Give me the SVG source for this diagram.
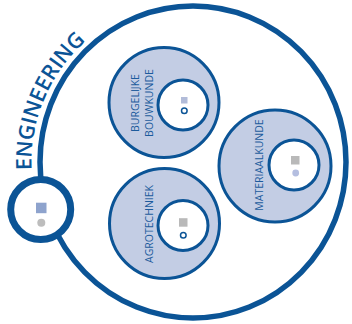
<svg xmlns="http://www.w3.org/2000/svg" width="352" height="324" viewBox="0 0 352 324">
<style>
.ring{fill:none;stroke:#0b5496;stroke-width:5.5}
.mid{fill:#c3cde4;stroke:#0b5496;stroke-width:3}
.inner{fill:#ffffff;stroke:#0b5496;stroke-width:3}
.lbl{font-family:"Open Sans","Noto Sans",sans-serif;font-size:10.5px;fill:#1c5b9c;text-anchor:middle}
.title{font-family:"Open Sans","Noto Sans",sans-serif;font-size:21.5px;font-weight:600;fill:#0b5496}
.sqb{fill:#b2bcd9}
.sqg{fill:#b9b9b9}
.odot{fill:#ffffff;stroke:#0b5496;stroke-width:1.5}
</style>
<defs>
<path id="arc" d="M 31.7 169.9 A 161.5 161.5 0 0 1 193 0.5"/>
</defs>
<g id="engineering">
<ellipse class="ring" cx="193" cy="162" rx="153" ry="156"/>
<text class="title"><textPath href="#arc">ENGINEERING</textPath></text>
</g>
<g id="burgelijke-bouwkunde">
<circle class="mid" cx="164" cy="102.5" r="55"/>
<circle class="inner" cx="183" cy="105" r="25"/>
<rect class="sqb" x="181" y="97" width="6.5" height="6.5"/>
<circle class="odot" cx="184.3" cy="110.7" r="2.8"/>
<text class="lbl" transform="translate(138.5,103) rotate(-90)">BURGELIJKE</text>
<text class="lbl" transform="translate(152.5,103) rotate(-90)">BOUWKUNDE</text>
</g>
<g id="materiaalkunde">
<circle class="mid" cx="275" cy="166" r="56"/>
<circle class="inner" cx="294" cy="165" r="25"/>
<rect class="sqg" x="291" y="156" width="8.5" height="8.5"/>
<circle cx="295.7" cy="173" r="3.4" fill="#b4bee0"/>
<text class="lbl" transform="translate(263,165) rotate(-90)">MATERIAALKUNDE</text>
</g>
<g id="agrotechniek">
<circle class="mid" cx="164.5" cy="223.5" r="55"/>
<circle class="inner" cx="183" cy="225.5" r="25"/>
<rect class="sqg" x="179" y="218.2" width="8.5" height="8.5"/>
<circle class="odot" cx="183.3" cy="235.3" r="2.8"/>
<text class="lbl" transform="translate(152.5,224) rotate(-90)">AGROTECHNIEK</text>
</g>
<g id="hub">
<circle cx="40.7" cy="209.5" r="30" fill="#ffffff" stroke="#0b5496" stroke-width="7"/>
<rect x="36" y="202.7" width="10.5" height="10.5" fill="#8ea3cd"/>
<circle cx="41.3" cy="222.7" r="4" fill="#bdbdbd"/>
</g>
<g id="connectors"/>
</svg>
